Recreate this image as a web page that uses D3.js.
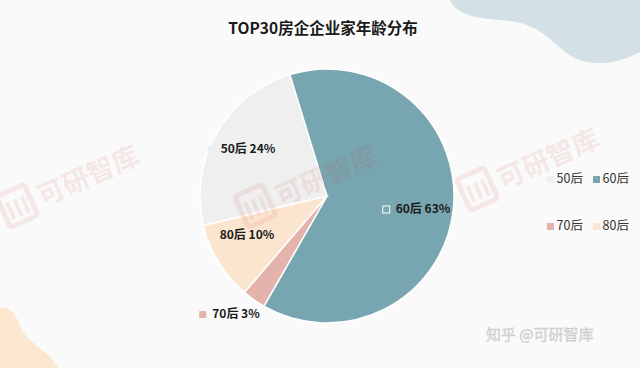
<!DOCTYPE html>
<html>
<head>
<meta charset="utf-8">
<script src="https://cdn.jsdelivr.net/npm/d3@7"></script>
<style>
  html, body { margin: 0; padding: 0; background: #fafafa; }
  svg { display: block; font-family: "Noto Sans CJK SC", "Noto Sans", sans-serif; }
</style>
</head>
<body>
<svg id="chart" width="640" height="368"></svg>
<script>
// data
var categories = ['50后', '60后', '70后', '80后']
var shares = [24, 63, 3, 10]
var colors = ['#efefef', '#78a6b0', '#e4b3ac', '#fce5cf']

var svg = d3.select('#chart')

// background blobs
svg.append('path')
  .attr('d', 'M450,0 C455,12 470,18 500,20 C535,22 545,35 565,52 C585,68 615,66 640,52 L640,0 Z')
  .attr('fill', '#d3e1e6')
svg.append('path')
  .attr('d', 'M0,308 C10,305 16,315 22,330 C30,345 48,350 58,368 L0,368 Z')
  .attr('fill', '#fde6d0')

// title
svg.append('text')
  .attr('x', 323).attr('y', 34)
  .attr('text-anchor', 'middle')
  .attr('font-size', 15.5).attr('font-weight', 700).attr('fill', '#1a1a1a')
  .text('TOP30房企企业家年龄分布')

// pie
var cx = 327, cy = 196, R = 127
var data = categories.map(function (c, i) { return { name: c, value: shares[i], color: colors[i] } })

var startDeg = -103.4
var pie = d3.pie().sort(null).value(function (d) { return d.value })
  .startAngle(startDeg * Math.PI / 180)
  .endAngle((startDeg + 360) * Math.PI / 180)
var arc = d3.arc().innerRadius(0).outerRadius(R)
var arcs = pie(data)

var pg = svg.append('g').attr('transform', 'translate(' + cx + ',' + cy + ')')
pg.selectAll('path.slice')
  .data(arcs)
  .enter()
  .append('path')
  .attr('class', 'slice')
  .attr('d', arc)
  .attr('fill', function (d) { return d.data.color })
  .attr('stroke', '#ffffff')
  .attr('stroke-width', 1.5)

// watermarks (drawn over everything, very faint)
function watermark(x, y) {
  var g = svg.append('g')
    .attr('transform', 'translate(' + x + ',' + y + ') rotate(-24)')
    .style('opacity', 0.09)
  g.append('rect').attr('x', 0).attr('y', -28).attr('width', 30).attr('height', 34).attr('rx', 3)
    .attr('fill', 'none').attr('stroke', '#c0392b').attr('stroke-width', 5)
  g.append('text').attr('x', 15).attr('y', 0).attr('text-anchor', 'middle')
    .attr('font-size', 24).attr('font-weight', 700).attr('fill', '#c0392b').text('Ⅲ')
  g.append('text').attr('x', 38).attr('y', 0)
    .attr('font-size', 27).attr('font-weight', 700).attr('fill', '#c0392b')
    .text('可研智库')
}
watermark(8, 222)
watermark(246, 222)
watermark(468, 205)

// slice labels (x, y offsets relative to pie center)
var labelPos = {
  '50后': [-79, -46],
  '60后': [96, 14],
  '70后': [-91, 119],
  '80后': [-80, 40]
}
arcs.forEach(function (d) {
  var p = labelPos[d.data.name]
  var lg = pg.append('g').attr('transform', 'translate(' + p[0] + ',' + p[1] + ')')
  var t = lg.append('text')
    .attr('x', 0).attr('y', 0)
    .attr('dominant-baseline', 'middle')
    .attr('text-anchor', 'middle')
    .attr('font-size', 12).attr('font-weight', 700).attr('fill', '#1a1a1a')
    .text(d.data.name + ' ' + d.data.value + '%')
  var w = t.node().getComputedTextLength()
  lg.append('rect')
    .attr('x', -w / 2 - 13).attr('y', -4)
    .attr('width', 7).attr('height', 7)
    .attr('fill', d.data.color)
    .attr('stroke', d.data.name === '60后' ? '#ffffff' : 'none')
    .attr('stroke-width', 1)
})

// legend
var legendPos = [[583, 180], [629, 180], [583, 227], [629, 227]]
data.forEach(function (d, i) {
  var p = legendPos[i]
  svg.append('text')
    .attr('x', p[0]).attr('y', p[1])
    .attr('text-anchor', 'end')
    .attr('dominant-baseline', 'middle')
    .attr('font-size', 12.5).attr('fill', '#333')
    .text(d.name)
  svg.append('rect')
    .attr('x', p[0] - 36).attr('y', p[1] - 4)
    .attr('width', 7).attr('height', 7)
    .attr('fill', d.color)
})

// source mark
svg.append('text')
  .attr('x', 486).attr('y', 340)
  .attr('font-size', 15).attr('fill', '#d6d6d6')
  .attr('stroke', '#c8c8c8').attr('stroke-width', 0.3)
  .text('知乎 @可研智库')
</script>
</body>
</html>
